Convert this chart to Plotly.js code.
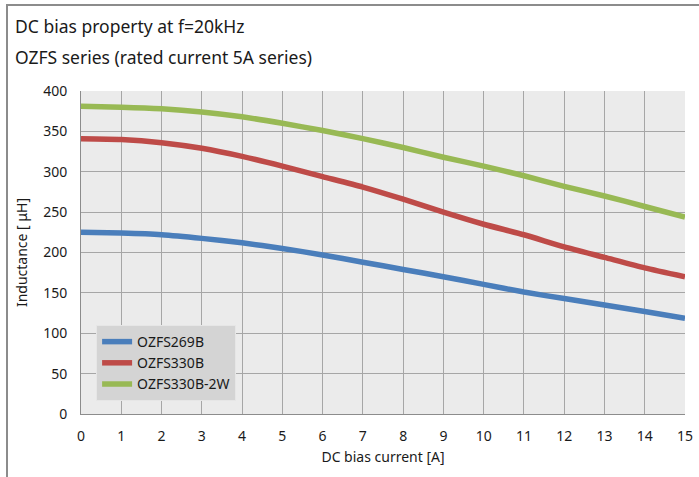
<!DOCTYPE html>
<html>
<head>
<meta charset="utf-8">
<script src="https://cdn.plot.ly/plotly-3.0.1.min.js"></script>
<style>
html,body{margin:0;padding:0;background:#fff;}
#wrap{position:relative;width:699px;height:477px;}
#chart{width:699px;height:477px;}
#frame{position:absolute;left:6px;top:4px;width:700px;height:480px;border-top:2px solid #8c8c8c;border-left:2px solid #8c8c8c;pointer-events:none;}
</style>
</head>
<body>
<div id="wrap"><div id="chart"></div><div id="frame"></div></div>
<script>
const current = [0,1,2,3,4,5,6,7,8,9,10,11,12,13,14,15];
const seriesNames = ["OZFS269B","OZFS330B","OZFS330B-2W"];
const ozfs269b = [225,224,222,217.5,212,205,197,188,179,170,160.5,151,143,135,127,118.5];
const ozfs330b = [341,340,336,329,319,307,294,281,266,250,235,222,207,194,181,170];
const ozfs330b2w = [381,380,378,374,368,360,351,341,330,318,307,295,282,270,257,244];
const xTicks = [0,1,2,3,4,5,6,7,8,9,10,11,12,13,14,15];
const yTicks = [0,50,100,150,200,250,300,350,400];

const colors = ["#4a7ebb","#be4b48","#98b954"];
const values = [ozfs269b, ozfs330b, ozfs330b2w];
const font = "Noto Sans, sans-serif";
const txt = "#1a1a1a";

const traces = values.map((v,i)=>({
  x: current, y: v, name: seriesNames[i], type: "scatter", mode: "lines",
  line: {color: colors[i], width: 5.5, shape: "spline", smoothing: 0.6}
}));

const layout = {
  width: 699, height: 477,
  margin: {l: 81, r: 14, t: 91, b: 63},
  paper_bgcolor: "#ffffff",
  plot_bgcolor: "#ebebeb",
  showlegend: true,
  legend: {
    x: 0.025, y: 0.2755, xanchor: "left", yanchor: "top",
    bgcolor: "#d4d4d4", bordercolor: "#e6e6e6", borderwidth: 1,
    font: {family: font, size: 14, color: txt},
    itemwidth: 30, tracegroupgap: 0
  },
  xaxis: {
    range: [0, 15], tickvals: xTicks, ticktext: xTicks.map(String),
    showgrid: true, gridcolor: "#a6a6a6", gridwidth: 1,
    showline: true, linecolor: "#8c8c8c", linewidth: 1, mirror: false,
    zeroline: false, ticks: "", ticklabelstandoff: 9,
    tickfont: {family: font, size: 14, color: txt},
    title: {text: "DC bias current [A]", font: {family: font, size: 14, color: txt}, standoff: 8}
  },
  yaxis: {
    range: [0, 400], tickvals: yTicks, ticktext: yTicks.map(String),
    showgrid: true, gridcolor: "#a6a6a6", gridwidth: 1,
    showline: true, linecolor: "#8c8c8c", linewidth: 1,
    zeroline: false, ticks: "", ticklabelstandoff: 10,
    tickfont: {family: font, size: 14, color: txt},
    title: {text: "Inductance [ μH]", font: {family: font, size: 14, color: txt}, standoff: 12}
  },
  annotations: [
    {text: "DC bias property at f=20kHz", xref: "paper", yref: "paper", x: -0.112, y: 1.201, xanchor: "left", yanchor: "middle", showarrow: false, font: {family: font, size: 17.5, color: txt}},
    {text: "OZFS series (rated current 5A series)", xref: "paper", yref: "paper", x: -0.112, y: 1.105, xanchor: "left", yanchor: "middle", showarrow: false, font: {family: font, size: 17.5, color: txt}}
  ]
};

Plotly.newPlot("chart", traces, layout, {displayModeBar: false, staticPlot: true});
</script>
</body>
</html>
